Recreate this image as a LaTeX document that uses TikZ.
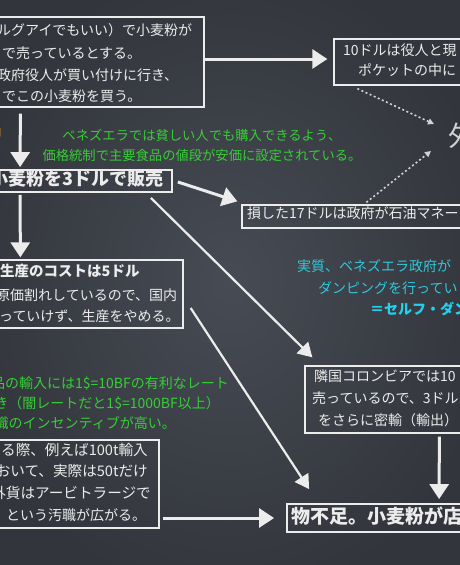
\documentclass[tikz,border=0pt]{standalone}
\usepackage{fontspec}
\setmainfont{Noto Sans CJK JP}
\usetikzlibrary{arrows.meta,positioning,calc}
\definecolor{Board}{HTML}{474B54}
\definecolor{BoardDark}{HTML}{32353B}
\definecolor{Chalk}{HTML}{ECECEC}
\definecolor{ChalkGray}{HTML}{D2D2D2}
\definecolor{ChalkGreen}{HTML}{35CF35}
\definecolor{ChalkCyan}{HTML}{2FC8DA}
\definecolor{ChalkCyanB}{HTML}{1FD3F0}
\definecolor{ChalkOrange}{HTML}{E38B20}

\begin{document}
\begin{tikzpicture}[x=1pt,y=-1pt,
  chalkbox/.style={draw=Chalk,line width=1.3pt,inner sep=0pt},
  titlebox/.style={chalkbox,line width=1.8pt},
  txt/.style={inner sep=0pt,text height=0.8em,text depth=0.05em,text=Chalk,font=\fontsize{14}{14}\selectfont},
  title/.style={txt,font=\fontsize{18}{18}\selectfont\bfseries},
  note/.style={txt,text=ChalkGreen,font=\fontsize{13.3}{13.3}\selectfont},
  mainarrow/.style={draw=Chalk,line width=3pt,-{Triangle[length=15pt,width=19pt]}},
  thinarrow/.style={draw=Chalk,line width=2.2pt,-{Triangle[length=14pt,width=16pt]}},
  dotarrow/.style={draw=ChalkGray,line width=1.6pt,dash pattern=on 2pt off 2.5pt,-{Triangle[length=6pt,width=6pt]}}]
\useasboundingbox (0,0) rectangle (460,565);
\clip (0,0) rectangle (460,565);
\shade[inner color=Board,outer color=BoardDark] (-40,-40) rectangle (500,605);

% boxes
\node[chalkbox,minimum width=234,minimum height=90] (buy) at (87,62) {};
\node[chalkbox,minimum width=186,minimum height=46] (pocket) at (427,62) {};
\node[titlebox,minimum width=202,minimum height=22] (sell) at (71,181) {};
\node[chalkbox,minimum width=213,minimum height=68] (cost) at (76.5,294) {};
\node[chalkbox,minimum width=278,minimum height=23] (loss) at (381,216.5) {};
\node[chalkbox,minimum width=189,minimum height=88] (import) at (64.5,484) {};
\node[chalkbox,minimum width=215,minimum height=67] (colombia) at (412.5,399.5) {};
\node[titlebox,minimum width=233,minimum height=28] (shortage) at (403.5,518) {};

% texts
\foreach \n/\x/\y/\t in {1/-3/32/{ルグアイでもいい）で小麦粉が},2/2/55/{で売っているとする。},
  3/-3/77/{政府役人が買い付けに行き、},4/2/98/{でこの小麦粉を買う。}}
  \node[txt,anchor=west] (buy-\n) at (\x,\y) {\t};
\foreach \n/\x/\y/\t in {1/343/52/{10ドルは役人と現},2/358/72/{ポケットの中に}}
  \node[txt,anchor=west] (pocket-\n) at (\x,\y) {\t};
\node[txt,anchor=west,font=\fontsize{28}{28}\selectfont,text=ChalkGray] (gaika) at (448,143) {外};
\node[txt,anchor=east,text=ChalkOrange,font=\fontsize{11}{11}\selectfont] (mark) at (2,133) {口};
\node[note] (price-1) at (202,137) {ベネズエラでは貧しい人でも購入できるよう、};
\node[note] (price-2) at (202,157) {価格統制で主要食品の値段が安価に設定されている。};
\node[title,anchor=west] (sell-1) at (-10,182) {小麦粉を3ドルで販売};
\node[txt,anchor=west] (loss-1) at (247,215) {損した17ドルは政府が石油マネー};
\node[txt,anchor=west,font=\fontsize{14.5}{14.5}\selectfont\bfseries] (cost-1) at (0,273) {生産のコストは5ドル};
\foreach \n/\x/\y/\t in {2/-4/297/{原価割れしているので、国内},3/-1/318/{っていけず、生産をやめる。}}
  \node[txt,anchor=west] (cost-\n) at (\x,\y) {\t};
\foreach \n/\x/\y/\t in {1/297/268/{実質、ベネズエラ政府が},2/318/290/{ダンピングを行ってい}}
  \node[txt,anchor=west,text=ChalkCyan] (dump-\n) at (\x,\y) {\t};
\node[txt,anchor=west,text=ChalkCyanB,font=\fontsize{14}{14}\selectfont\bfseries] (dump-3) at (370,311) {＝セルフ・ダンピング};
\foreach \n/\x/\y/\t in {1/229/385/{品の輸入には1\$=10BFの有利なレート},2/220/405/{き（闇レートだと1\$=1000BF以上）},
  3/176/425/{汚職のインセンティブが高い。}}
  \node[note,anchor=east,font=\fontsize{14}{14}\selectfont] (rate-\n) at (\x,\y) {\t};
\foreach \n/\x/\y/\t in {1/148/452/{る際、例えば100t輸入},2/148/473/{おいて、実際は50tだけ},3/151/495/{外貨はアービトラージで}}
  \node[txt,anchor=east,font=\fontsize{14.6}{14.6}\selectfont] (import-\n) at (\x,\y) {\t};
\node[txt,anchor=west] (import-4) at (6,517) {という汚職が広がる。};
\foreach \n/\x/\y/\t in {1/314/378/{隣国コロンビアでは10},2/312/400/{売っているので、3ドル},3/318/422/{をさらに密輸（輸出）}}
  \node[txt,anchor=west] (colombia-\n) at (\x,\y) {\t};
\node[title,anchor=west,font=\fontsize{19}{19}\selectfont\bfseries] (shortage-1) at (291,520) {物不足。小麦粉が店};

% arrows
\draw[mainarrow] ($(buy.east)+(0,-3)$) -- ($(pocket.west)+(-6,-3)$);
\draw[mainarrow] ($(buy.south west)+(51,6)$) -- ($(sell.north west)+(51,-2)$);
\draw[mainarrow] ($(sell.south west)+(51,2)$) -- ($(cost.north west)+(51,-2)$);
\draw[mainarrow] ($(sell.east)+(5,1)$) -- ($(loss.north west)+(-4,-3)$);
\draw[thinarrow] ($(sell.south east)+(-22,5)$) -- ($(colombia.north west)+(8,-8)$);
\draw[thinarrow] ($(cost.east)+(7,14)$) -- ($(shortage.north west)+(23,-14)$);
\draw[mainarrow] ($(colombia.south west)+(135,3)$) -- ($(shortage.north west)+(153,-4)$);
\draw[mainarrow] ($(import.east)+(3,34)$) -- ($(shortage.west)+(-12,0)$);
\draw[dotarrow] ($(pocket.south west)+(24,3)$) -- ($(gaika.west)+(-14,-19)$);
\draw[dotarrow] ($(loss.north west)+(125,-2)$) -- ($(gaika.west)+(-17,8)$);
\end{tikzpicture}
\end{document}
